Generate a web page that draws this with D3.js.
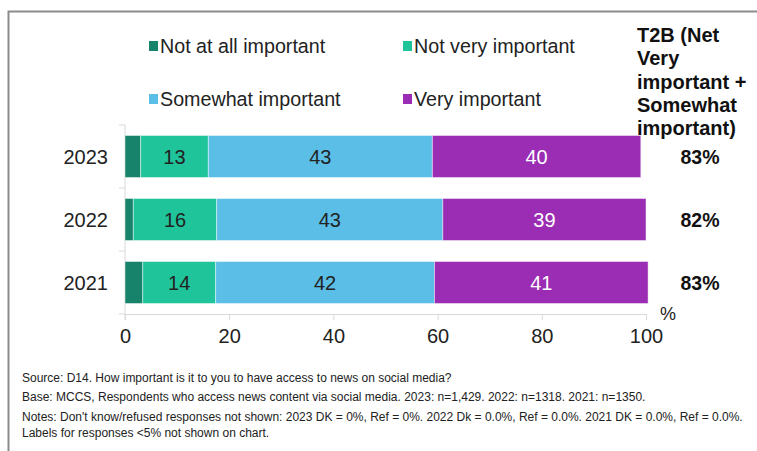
<!DOCTYPE html>
<html>
<head>
<meta charset="utf-8">
<script src="https://cdn.jsdelivr.net/npm/d3@7"></script>
<style>
  html, body { margin: 0; padding: 0; background: #fff; }
  svg { display: block; font-family: Arial, "Liberation Sans", sans-serif; }
</style>
</head>
<body>
<svg id="chart" width="757" height="451"></svg>
<script>
// Survey data: importance of access to news on social media (%)
const years = ["2023", "2022", "2021"];
const seriesNames = ["Not at all important", "Not very important", "Somewhat important", "Very important"];
const notAtAll = [3, 1.6, 3.4];
const notVery = [13, 16, 14];
const somewhat = [43, 43.4, 42];
const very = [40, 39, 41];
const t2b = ["83%", "82%", "83%"];
const xTicks = [0, 20, 40, 60, 80, 100];
const colors = ["#16836a", "#20c49a", "#5bbee6", "#9a2db3"];
const labelColors = ["#222", "#222", "#222", "#fff"];
const t2bHeader = ["T2B (Net", "Very", "important +", "Somewhat", "important)"];
const notes = [
  "Source: D14. How important is it to you to have access to news on social media?",
  "Base: MCCS, Respondents who access news content via social media. 2023: n=1,429. 2022: n=1318. 2021: n=1350.",
  "Notes: Don't know/refused responses not shown: 2023 DK = 0%, Ref = 0%. 2022 Dk = 0.0%, Ref = 0.0%. 2021 DK = 0.0%, Ref = 0.0%.",
  "Labels for responses <5% not shown on chart."
];

const svg = d3.select("#chart");

// Frame lines (top and left)
svg.append("path")
  .attr("d", "M8.5,451 V11.5 H757")
  .attr("fill", "none")
  .attr("stroke", "#8c8c8c")
  .attr("stroke-width", 2);

const x = d3.scaleLinear().domain([0, 100]).range([125, 646]);
const y = d3.scaleBand().domain(years).range([125, 314]).paddingInner(1 / 3).paddingOuter(1 / 6);

// Build rows for stacking
const rows = years.map((yr, i) => ({
  year: yr,
  [seriesNames[0]]: notAtAll[i],
  [seriesNames[1]]: notVery[i],
  [seriesNames[2]]: somewhat[i],
  [seriesNames[3]]: very[i]
}));
const stacked = d3.stack().keys(seriesNames)(rows);

// Axes
const yAxis = svg.append("g")
  .attr("transform", `translate(${x(0)},0)`);
yAxis.append("line")
  .attr("x1", 0).attr("x2", 0)
  .attr("y1", 125).attr("y2", 320)
  .attr("stroke", "#d9d9d9");
[125, 188, 251, 314].forEach(v => {
  yAxis.append("line").attr("x1", -6).attr("x2", 0).attr("y1", v).attr("y2", v).attr("stroke", "#d9d9d9");
});

const xAxis = svg.append("g")
  .attr("transform", "translate(0,314)")
  .call(d3.axisBottom(x).tickValues(xTicks).tickSize(6).tickPadding(9).tickFormat(d3.format("d")));
xAxis.select(".domain").attr("stroke", "#d9d9d9");
xAxis.selectAll(".tick line").attr("stroke", "#d9d9d9");
xAxis.selectAll(".tick text")
  .attr("font-size", 20)
  .attr("fill", "#222")
  .attr("font-family", "Arial, 'Liberation Sans', sans-serif");

svg.append("text")
  .attr("x", 668).attr("y", 320)
  .attr("text-anchor", "middle")
  .attr("font-size", 18)
  .attr("fill", "#222")
  .text("%");

// Year labels
svg.selectAll(".yearLabel")
  .data(years)
  .join("text")
  .attr("x", 108)
  .attr("y", d => y(d) + y.bandwidth() / 2 + 7)
  .attr("text-anchor", "end")
  .attr("font-size", 20)
  .attr("fill", "#222")
  .text(d => d);

// Bars
const layers = svg.selectAll(".layer")
  .data(stacked)
  .join("g")
  .attr("fill", (d, i) => colors[i]);

layers.selectAll("rect")
  .data(d => d)
  .join("rect")
  .attr("x", d => x(d[0]))
  .attr("y", d => y(d.data.year))
  .attr("width", d => x(d[1]) - x(d[0]))
  .attr("height", y.bandwidth())
  .attr("stroke", "#ffffff")
  .attr("stroke-opacity", 0.45)
  .attr("stroke-width", 1);

// Value labels (only segments of 5% or more)
stacked.forEach((layer, li) => {
  svg.append("g").selectAll("text")
    .data(layer.filter(d => d[1] - d[0] >= 5))
    .join("text")
    .attr("x", d => (x(d[0]) + x(d[1])) / 2)
    .attr("y", d => y(d.data.year) + y.bandwidth() / 2 + 7)
    .attr("text-anchor", "middle")
    .attr("font-size", 20)
    .attr("fill", labelColors[li])
    .text(d => d3.format("d")(d[1] - d[0]));
});

// T2B column
svg.append("g").selectAll("text")
  .data(t2bHeader)
  .join("text")
  .attr("x", 637)
  .attr("y", (d, i) => 42 + i * 23.3)
  .attr("font-size", 20)
  .attr("font-weight", "bold")
  .attr("fill", "#111")
  .text(d => d);

svg.append("g").selectAll("text")
  .data(years)
  .join("text")
  .attr("x", 700)
  .attr("y", d => y(d) + y.bandwidth() / 2 + 7)
  .attr("text-anchor", "middle")
  .attr("font-size", 19.5)
  .attr("font-weight", "bold")
  .attr("fill", "#111")
  .text((d, i) => t2b[i]);

// Legend
const legendPos = [[149, 46], [403, 46], [149, 99], [403, 99]];
const legend = svg.append("g").selectAll("g")
  .data(seriesNames)
  .join("g")
  .attr("transform", (d, i) => `translate(${legendPos[i][0]},${legendPos[i][1]})`);
legend.append("rect")
  .attr("x", 0).attr("y", -5)
  .attr("width", 9).attr("height", 10)
  .attr("fill", (d, i) => colors[i]);
legend.append("text")
  .attr("x", 11).attr("y", 7)
  .attr("font-size", 19.7)
  .attr("fill", "#222")
  .text(d => d);

// Footnotes
svg.append("g").selectAll("text")
  .data(notes)
  .join("text")
  .attr("x", 22)
  .attr("y", (d, i) => [382, 401, 421, 437][i])
  .attr("font-size", 12)
  .attr("fill", "#222")
  .text(d => d);
</script>
</body>
</html>
